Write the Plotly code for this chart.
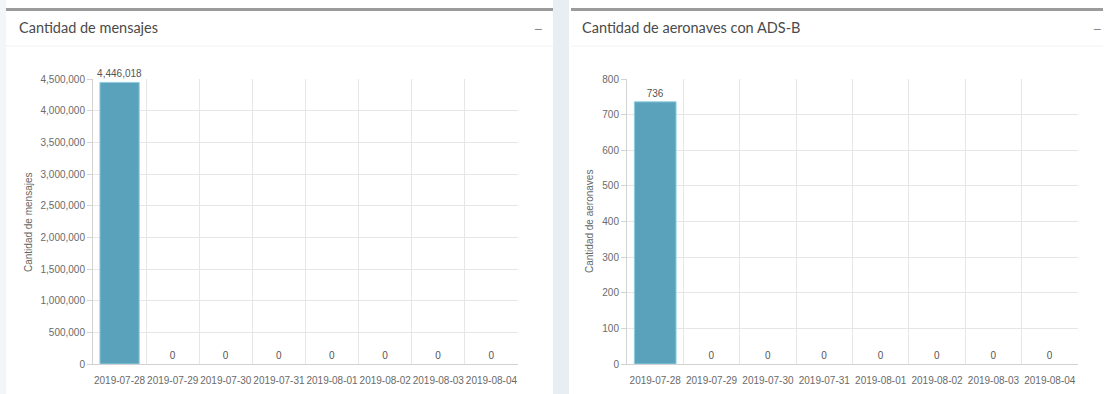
import plotly.graph_objects as go

# --- data -------------------------------------------------------------
fechas = ["2019-07-28", "2019-07-29", "2019-07-30", "2019-07-31",
          "2019-08-01", "2019-08-02", "2019-08-03", "2019-08-04"]
mensajes = [4446018, 0, 0, 0, 0, 0, 0, 0]
aeronaves = [736, 0, 0, 0, 0, 0, 0, 0]

titulo_izq = "Cantidad de mensajes"
titulo_der = "Cantidad de aeronaves con ADS-B"
eje_izq = "Cantidad de mensajes"
eje_der = "Cantidad de aeronaves"

W, H = 1105, 394
BAR = "#5aa2bb"
BAR_EDGE = "#93cfe0"
GRID = "#e6e6e6"
AXIS = "#d2d2d2"
TICK_FONT = dict(family="Arial, Liberation Sans, sans-serif", size=10, color="#6a6a6a")
HEAD_FONT = dict(family="Source Sans Pro, Lato, Open Sans, sans-serif", size=14.5, color="#4a4a4a")
LABEL_FONT = dict(family="Arial, Liberation Sans, sans-serif", size=10, color="#555")


def px(x):
    return x / W


def py(y):
    return 1 - y / H


def bar_trace(valores, xa, ya):
    # outline only where a bar actually has height
    return go.Bar(
        x=fechas, y=valores, xaxis=xa, yaxis=ya,
        marker=dict(color=BAR,
                    line=dict(color=BAR_EDGE, width=[1 if v > 0 else 0 for v in valores])),
        width=0.74,
        text=[f"{v:,}" for v in valores], textposition="outside",
        textfont=LABEL_FONT, constraintext="none",
        cliponaxis=False, hoverinfo="x+y",
    )


fig = go.Figure()
fig.add_trace(bar_trace(mensajes, "x", "y"))
fig.add_trace(bar_trace(aeronaves, "x2", "y2"))

xaxis_common = dict(
    type="category", tickson="boundaries", showgrid=True, gridcolor=GRID,
    showline=True, linecolor=AXIS, ticks="", tickfont=TICK_FONT,
    ticklabelstandoff=7,
    range=[-0.5, 7.5], fixedrange=True, tickangle=0, automargin=False,
)
yaxis_common = dict(
    showgrid=True, gridcolor=GRID, showline=True, linecolor=AXIS,
    ticks="outside", ticklen=5, tickcolor=AXIS, tickfont=TICK_FONT,
    tickformat=",d", zeroline=False, fixedrange=True, automargin=False,
)

y_top, y_bot = 79, 364

fig.update_layout(
    width=W, height=H,
    margin=dict(l=0, r=0, t=0, b=0, autoexpand=False),
    paper_bgcolor="#ffffff", plot_bgcolor="rgba(0,0,0,0)",
    showlegend=False, bargap=0.26,
    xaxis=dict(domain=[px(93), px(518)], anchor="y", **xaxis_common),
    yaxis=dict(domain=[py(y_bot), py(y_top)], anchor="x",
               range=[0, 4500000], dtick=500000, **yaxis_common),
    xaxis2=dict(domain=[px(627), px(1078)], anchor="y2", **xaxis_common),
    yaxis2=dict(domain=[py(y_bot), py(y_top)], anchor="x2",
                range=[0, 800], dtick=100, **yaxis_common),
)

# --- dashboard boxes ---------------------------------------------------
shapes = [
    # page background strips
    dict(type="rect", xref="paper", yref="paper", x0=0, x1=px(6), y0=0, y1=1,
         fillcolor="#f3f5f8", line=dict(width=0), layer="below"),
    dict(type="rect", xref="paper", yref="paper", x0=px(553), x1=px(569), y0=0, y1=1,
         fillcolor="#e9eef3", line=dict(width=0), layer="below"),
    # top borders of the boxes
    dict(type="rect", xref="paper", yref="paper", x0=px(6), x1=px(553), y0=py(11), y1=py(8),
         fillcolor="#9b9b9b", line=dict(width=0), layer="below"),
    dict(type="rect", xref="paper", yref="paper", x0=px(571), x1=px(1103), y0=py(11), y1=py(8),
         fillcolor="#9b9b9b", line=dict(width=0), layer="below"),
    # header separators
    dict(type="line", xref="paper", yref="paper", x0=px(6), x1=px(553), y0=py(46), y1=py(46),
         line=dict(color="#f2f2f2", width=1), layer="below"),
    dict(type="line", xref="paper", yref="paper", x0=px(571), x1=px(1103), y0=py(46), y1=py(46),
         line=dict(color="#f2f2f2", width=1), layer="below"),
]
fig.update_layout(shapes=shapes)

annotations = [
    dict(text=titulo_izq, x=px(17), y=py(28), xref="paper", yref="paper",
         xanchor="left", yanchor="middle", showarrow=False, font=HEAD_FONT),
    dict(text=titulo_der, x=px(580), y=py(28), xref="paper", yref="paper",
         xanchor="left", yanchor="middle", showarrow=False, font=HEAD_FONT),
    dict(text="−", x=px(538), y=py(29), xref="paper", yref="paper",
         xanchor="center", yanchor="middle", showarrow=False,
         font=dict(family="Arial", size=14, color="#888")),
    dict(text="−", x=px(1097), y=py(29), xref="paper", yref="paper",
         xanchor="center", yanchor="middle", showarrow=False,
         font=dict(family="Arial", size=14, color="#888")),
    dict(text=eje_izq, x=px(28), y=py(222), xref="paper", yref="paper",
         xanchor="center", yanchor="middle", textangle=-90, showarrow=False,
         font=dict(family="Arial, Liberation Sans, sans-serif", size=10, color="#666")),
    dict(text=eje_der, x=px(589), y=py(222), xref="paper", yref="paper",
         xanchor="center", yanchor="middle", textangle=-90, showarrow=False,
         font=dict(family="Arial, Liberation Sans, sans-serif", size=10, color="#666")),
]
fig.update_layout(annotations=annotations)

fig.write_html("out.html", config={"displayModeBar": False})
